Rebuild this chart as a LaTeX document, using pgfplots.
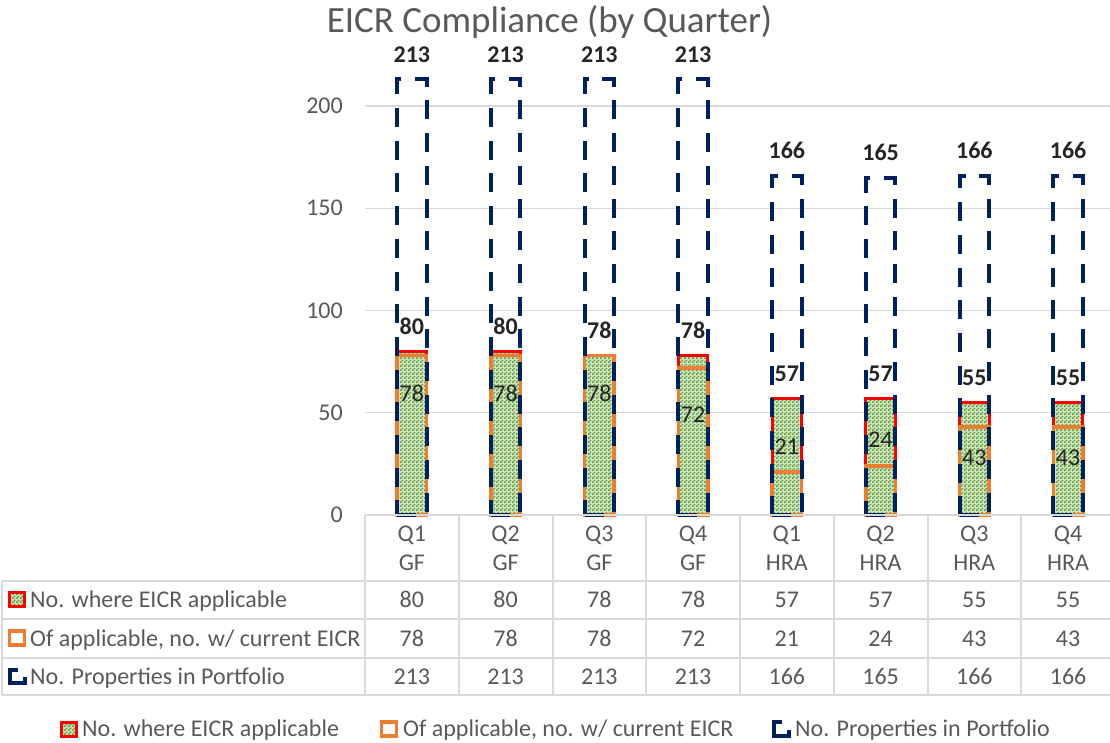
\documentclass[border=0pt]{standalone}
\usepackage{pgfplots}
\pgfplotsset{compat=1.18}
\usepackage{fontspec}
\setmainfont{Carlito}
\usetikzlibrary{patterns}
\definecolor{navy}{HTML}{002060}
\definecolor{eorange}{HTML}{ED7D31}
\definecolor{egreen}{HTML}{5C9A36}
\definecolor{egreenbg}{HTML}{CFE5C0}
\definecolor{egrid}{HTML}{D9D9D9}
\definecolor{etext}{HTML}{595959}
\definecolor{elabel}{HTML}{262626}
\definecolor{einner}{HTML}{262626}
\pgfdeclarepatternformonly{smallcheck}{\pgfqpoint{0pt}{0pt}}{\pgfqpoint{4pt}{4pt}}{\pgfqpoint{4pt}{4pt}}{%
  \pgfpathrectangle{\pgfqpoint{0pt}{0pt}}{\pgfqpoint{2pt}{2pt}}%
  \pgfpathrectangle{\pgfqpoint{2pt}{2pt}}{\pgfqpoint{2pt}{2pt}}%
  \pgfusepath{fill}}
\newcommand{\tfont}{\fontsize{24}{28}\selectfont}
\begin{document}
\begin{tikzpicture}
\useasboundingbox (0pt,0pt) rectangle (1110pt,-742pt);
\begin{axis}[
  at={(365pt,-515pt)}, anchor=south west,
  scale only axis, width=750pt, height=470.35pt,
  xmin=-0.5, xmax=7.5, ymin=0, ymax=230,
  axis line style={draw=none},
  xtick=\empty,
  ytick={0,50,100,150,200},
  ymajorgrids, grid style={color=egrid, line width=1.3pt},
  major tick length=0pt,
  /pgf/number format/assume math mode=true,
  yticklabel style={font=\tfont, text=etext, inner sep=0pt},
  yticklabel shift=22pt,
  clip=false,
]
% No. where EICR applicable
\addplot[ybar, bar width=29.5pt, bar shift=0pt, draw=red, line width=3pt,
  pattern=smallcheck, pattern color=egreen, preaction={fill=egreenbg},
  nodes near coords,
  every node near coord/.append style={font=\bfseries\tfont, text=elabel, anchor=base, yshift=17pt, line width=0pt}]
  coordinates {(0,80)(1,80)(2,78)(3,78)(4,57)(5,57)(6,55)(7,55)};
% Of applicable, no. w/ current EICR
\addplot[ybar, bar width=29.5pt, bar shift=0pt, draw=eorange, line width=3.5pt, fill=none]
  coordinates {(0,78)(1,78)(2,78)(3,72)(4,21)(5,24)(6,43)(7,43)};
% No. Properties in Portfolio
\addplot[ybar, bar width=29.5pt, bar shift=0pt, draw=navy, line width=4pt,
  dash pattern=on 19pt off 13.7pt, fill=none,
  nodes near coords,
  every node near coord/.append style={font=\bfseries\tfont, text=elabel, anchor=base, yshift=17pt, solid}]
  coordinates {(0,213)(1,213)(2,213)(3,213)(4,166)(5,165)(6,166)(7,166)};
% labels of current EICR (inside bars)
\addplot[draw=none, mark=none, nodes near coords, point meta=explicit,
  every node near coord/.append style={font=\tfont, text=einner, anchor=center}]
  table[meta=v] {
x y v
0 59.7 78
1 59.7 78
2 59.7 78
3 48.9 72
4 33.3 21
5 36.7 24
6 27.9 43
7 27.9 43
};
\end{axis}
\begin{scope}[x=1pt,y=-1pt]
\node[anchor=base, text=etext, font=\fontsize{37}{44}\selectfont, inner sep=0pt] at (549.5,32) {EICR Compliance (by Quarter)};
% data table grid
\draw[egrid, line width=2pt] (365,515) -- (1115,515);
\foreach \yy in {581,619,658,695} \draw[egrid, line width=2pt] (2,\yy) -- (1115,\yy);
\draw[egrid, line width=2pt] (2,581) -- (2,695);
\foreach \i in {0,...,8} \draw[egrid, line width=2pt] ({365+93.75*\i},515) -- ({365+93.75*\i},695);
% header
\foreach \q/\g [count=\i from 0] in {Q1/GF,Q2/GF,Q3/GF,Q4/GF,Q1/HRA,Q2/HRA,Q3/HRA,Q4/HRA}{
  \node[anchor=base, inner sep=0pt, text=etext, font=\tfont] at ({411.875+93.75*\i},541) {\q};
  \node[anchor=base, inner sep=0pt, text=etext, font=\tfont] at ({411.875+93.75*\i},570.5) {\g};
}
\foreach \v [count=\i from 0] in {80,80,78,78,57,57,55,55}
  \node[anchor=base, inner sep=0pt, text=etext, font=\tfont] at ({411.875+93.75*\i},607.5) {\v};
\foreach \v [count=\i from 0] in {78,78,78,72,21,24,43,43}
  \node[anchor=base, inner sep=0pt, text=etext, font=\tfont] at ({411.875+93.75*\i},646) {\v};
\foreach \v [count=\i from 0] in {213,213,213,213,166,165,166,166}
  \node[anchor=base, inner sep=0pt, text=etext, font=\tfont] at ({411.875+93.75*\i},684.5) {\v};
% row labels
\node[anchor=base west, inner sep=0pt, text=etext, font=\tfont] at (30,607.5) {No. where EICR applicable};
\node[anchor=base west, inner sep=0pt, text=etext, font=\tfont] at (30,646) {Of applicable, no. w/ current EICR};
\node[anchor=base west, inner sep=0pt, text=etext, font=\tfont] at (30,684.5) {No. Properties in Portfolio};
% row keys
\path[pattern=smallcheck, pattern color=egreen, preaction={fill=egreenbg}, draw=red, line width=3pt] (9.5,592.5) rectangle (24.5,606.5);
\draw[eorange, line width=3.5pt, fill=white] (9.5,631) rectangle (24.5,645);
\draw[navy, line width=4pt] (18,669.5) -- (9.5,669.5) -- (9.5,683) -- (24.5,683) -- (24.5,677);
% legend
\path[pattern=smallcheck, pattern color=egreen, preaction={fill=egreenbg}, draw=red, line width=3pt] (61.5,722) rectangle (76.5,736);
\node[anchor=base west, inner sep=0pt, text=etext, font=\tfont] at (82,736) {No. where EICR applicable};
\draw[eorange, line width=3.5pt, fill=white] (381.5,722) rectangle (396.5,736);
\node[anchor=base west, inner sep=0pt, text=etext, font=\tfont] at (403,736) {Of applicable, no. w/ current EICR};
\draw[navy, line width=4pt] (782,722) -- (773.5,722) -- (773.5,735.5) -- (788.5,735.5) -- (788.5,729.5);
\node[anchor=base west, inner sep=0pt, text=etext, font=\tfont] at (795,736) {No. Properties in Portfolio};
\end{scope}
\end{tikzpicture}
\end{document}
